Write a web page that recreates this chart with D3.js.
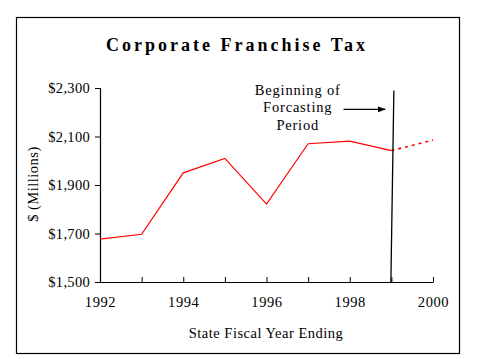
<!DOCTYPE html>
<html>
<head>
<meta charset="utf-8">
<script src="https://cdn.jsdelivr.net/npm/d3@7"></script>
<style>
  body { margin: 0; background: #fff; }
  text { font-family: "Liberation Serif", "Times New Roman", serif; fill: #000; }
</style>
</head>
<body>
<div id="chart"></div>
<script>
// Actual values, state fiscal year ending
var years = [1992, 1993, 1994, 1995, 1996, 1997, 1998, 1999];
var values = [1677, 1697, 1950, 2010, 1821, 2070, 2081, 2042];

// Forecast segment
var forecastYears = [1999, 2000];
var forecastValues = [2042, 2085];

var yTicks = [1500, 1700, 1900, 2100, 2300];
var xTicks = [1992, 1993, 1994, 1995, 1996, 1997, 1998, 1999, 2000];
var xLabels = [1992, 1994, 1996, 1998, 2000];

var svgWidth = 479, svgHeight = 359;
var margin = { top: 88, right: 46, bottom: 77, left: 100 };
var chartWidth = 433 - margin.left;
var chartHeight = 282 - margin.top;

var svg = d3.select("#chart").append("svg")
    .attr("width", svgWidth)
    .attr("height", svgHeight);

// Outer frame
svg.append("rect")
    .attr("x", 16.5).attr("y", 17.5)
    .attr("width", 443).attr("height", 336)
    .attr("fill", "none")
    .attr("stroke", "#000")
    .attr("stroke-width", 1.2);

// Title
svg.append("text")
    .attr("x", 237).attr("y", 51)
    .attr("text-anchor", "middle")
    .attr("font-size", "18px")
    .attr("font-weight", "bold")
    .attr("letter-spacing", "3px")
    .text("Corporate Franchise Tax");

var chartGroup = svg.append("g")
    .attr("transform", `translate(${margin.left}, ${margin.top})`);

var xScale = d3.scaleLinear().domain([1992, 2000]).range([0, chartWidth]);
var yScale = d3.scaleLinear().domain([1500, 2300]).range([chartHeight, 0]);

// Y axis
var yAxis = d3.axisLeft(yScale)
    .tickValues(yTicks)
    .tickSize(5)
    .tickPadding(5)
    .tickFormat(function(d) { return "$" + d3.format(",")(d); });

var yG = chartGroup.append("g").call(yAxis);
yG.select(".domain").attr("stroke", "#000").attr("stroke-width", 1.2);
yG.selectAll("text")
    .attr("font-family", "Liberation Serif, serif")
    .attr("font-size", "14.5px")
    .attr("letter-spacing", "0.3px")
    .attr("fill", "#000");

// X axis, ticks point up into the plot
var xAxis = d3.axisBottom(xScale)
    .tickValues(xTicks)
    .tickSize(-5)
    .tickSizeOuter(0)
    .tickPadding(15)
    .tickFormat(function(d) { return xLabels.indexOf(d) >= 0 ? d : ""; });

var xG = chartGroup.append("g")
    .attr("transform", `translate(0, ${chartHeight})`)
    .call(xAxis);
xG.select(".domain").attr("stroke", "#000").attr("stroke-width", 1.2);
xG.selectAll("text")
    .attr("font-family", "Liberation Serif, serif")
    .attr("font-size", "14.5px")
    .attr("letter-spacing", "0.6px")
    .attr("fill", "#000");

var line = d3.line()
    .x(function(d) { return xScale(d[0]); })
    .y(function(d) { return yScale(d[1]); });

// Actual series
chartGroup.append("path")
    .datum(years.map(function(y, i) { return [y, values[i]]; }))
    .attr("d", line)
    .attr("fill", "none")
    .attr("stroke", "#ff0000")
    .attr("stroke-width", 1.2);

// Forecast series (dotted)
chartGroup.append("path")
    .datum(forecastYears.map(function(y, i) { return [y, forecastValues[i]]; }))
    .attr("d", line)
    .attr("fill", "none")
    .attr("stroke", "#ff0000")
    .attr("stroke-width", 1.6)
    .attr("stroke-dasharray", "3,4");

// Beginning of forecasting period marker
chartGroup.append("line")
    .attr("x1", xScale(1999) + 2.5).attr("y1", yScale(2290))
    .attr("x2", xScale(1999) - 0.5).attr("y2", yScale(1500))
    .attr("stroke", "#000")
    .attr("stroke-width", 1.3);

// Annotation text
var notes = ["Beginning of", "Forcasting", "Period"];
chartGroup.selectAll(".note")
    .data(notes)
    .enter()
    .append("text")
    .attr("class", "note")
    .attr("text-anchor", "middle")
    .attr("x", xScale(1996.75))
    .attr("y", function(d, i) { return yScale(2290) + 4.5 + i * 17.5; })
    .attr("font-size", "14.5px")
    .attr("letter-spacing", "0.8px")
    .text(function(d) { return d; });

// Arrow
svg.append("defs").append("marker")
    .attr("id", "arrow")
    .attr("viewBox", "0 0 10 10")
    .attr("refX", 9).attr("refY", 5)
    .attr("markerWidth", 7).attr("markerHeight", 7)
    .attr("orient", "auto")
    .append("path")
    .attr("d", "M0,1.5 L10,5 L0,8.5 Z")
    .attr("fill", "#000");

chartGroup.append("line")
    .attr("x1", xScale(1997.85)).attr("y1", yScale(2212))
    .attr("x2", xScale(1998.85)).attr("y2", yScale(2212))
    .attr("stroke", "#000")
    .attr("stroke-width", 1.2)
    .attr("marker-end", "url(#arrow)");

// Axis titles
svg.append("text")
    .attr("x", 266).attr("y", 338)
    .attr("text-anchor", "middle")
    .attr("font-size", "14.5px")
    .attr("letter-spacing", "0.5px")
    .text("State Fiscal Year Ending");

svg.append("text")
    .attr("transform", "translate(38, 184) rotate(-90)")
    .attr("text-anchor", "middle")
    .attr("font-size", "14.5px")
    .attr("letter-spacing", "0.5px")
    .text("$ (Millions)");
</script>
</body>
</html>
